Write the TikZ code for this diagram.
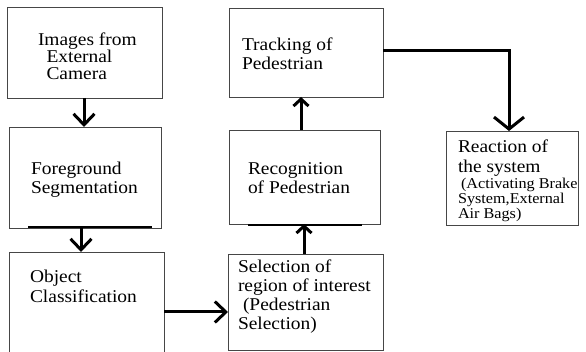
\documentclass[tikz,border=0pt]{standalone}
\usepackage{fontspec}
\setmainfont{Liberation Serif}[FakeStretch=1.08]
\usetikzlibrary{arrows.meta}
\definecolor{boxgray}{RGB}{70,70,70}
\begin{document}
\begin{tikzpicture}[x=1pt,y=-1pt,
  box/.style={draw=boxgray, line width=0.9pt, rectangle, inner sep=0pt, outer sep=0pt},
  txt/.style={inner sep=0pt, outer sep=0pt, anchor=base west, font=\fontsize{18}{19}\selectfont},
  arr/.style={line width=3pt, -{Straight Barb[length=11pt,width=21pt]}},
  arrup/.style={line width=3pt, -{Straight Barb[length=7pt,width=15pt]}},
  arrbig/.style={line width=3pt, -{Straight Barb[length=12pt,width=30pt]}},
  underl/.style={line width=1.4pt, black}]
\useasboundingbox (0,0) rectangle (586,352);
\clip (0,0) rectangle (586,352);
% boxes
\node[box, minimum width=155pt, minimum height=91pt]  (b1) at (84.5,52.5) {};
\node[box, minimum width=152pt, minimum height=101pt] (b2) at (85,177.5) {};
\node[box, minimum width=155pt, minimum height=110pt] (b3) at (86.5,307) {};
\node[box, minimum width=155pt, minimum height=96pt]  (b4) at (305.5,302) {};
\node[box, minimum width=151pt, minimum height=94pt]  (b5) at (304.5,177) {};
\node[box, minimum width=154pt, minimum height=89pt]  (b6) at (306,52.5) {};
\node[box, minimum width=132pt, minimum height=94pt]  (b7) at (512,178) {};
% underlines
\draw[underl] ([xshift=19pt,yshift=1pt]b2.south west) -- ([xshift=-9pt,yshift=1pt]b2.south east);
\draw[underl] ([xshift=19pt,yshift=-1pt]b5.south west) -- ([xshift=-18pt,yshift=-1pt]b5.south east);
% texts
\node[txt, font=\fontsize{18}{17}\selectfont] (t1) at (38,46)
  {\vtop{\hbox{Images from}\hbox{\hspace{8.5pt}External}\hbox{\hspace{8.5pt}Camera}}};
\node[txt] (t2) at (31,175) {\vtop{\hbox{Foreground}\hbox{Segmentation}}};
\node[txt, font=\fontsize{18}{20}\selectfont] (t3) at (30,283) {\vtop{\hbox{Object}\hbox{Classification}}};
\node[txt, font=\fontsize{18}{18.7}\selectfont] (t4) at (238,273)
  {\vtop{\hbox{Selection of}\hbox{region of interest}\hbox{\hspace{5pt}(Pedestrian}\hbox{Selection)}}};
\node[txt] (t5) at (248,175) {\vtop{\hbox{Recognition}\hbox{of Pedestrian}}};
\node[txt] (t6) at (242,51) {\vtop{\hbox{Tracking of}\hbox{Pedestrian}}};
\node[txt, font=\fontsize{18}{20}\selectfont] (t7) at (458,153) {\vtop{\hbox{Reaction of}\hbox{the system}}};
\node[txt, font=\fontsize{15}{13.5}\selectfont] (t7s) at (458,189)
  {\vtop{\hbox{\hspace{3pt}(Activating Brake}\hbox{System,External}\hbox{Air Bags)}}};
% connectors
\draw[arr] ([xshift=-0.5pt]b1.south) -- ([xshift=-0.5pt]b1.south |- b2.north);
\draw[arr] ([xshift=-4pt]b2.south) -- ([xshift=-4pt]b2.south |- b3.north);
\draw[arr] ([yshift=-5pt]b3.east) -- ([yshift=-5pt]b3.east -| b4.west);
\draw[arrup] ([xshift=-1.5pt]b4.north) -- ([xshift=-1.5pt]b4.north |- b5.south);
\draw[arrup] ([xshift=-3.5pt]b5.north) -- ([xshift=-3.5pt]b5.north |- b6.south);
\draw[arrbig] ([yshift=1.5pt]b6.east) -| ([xshift=-3pt]b7.north);
\end{tikzpicture}
\end{document}
